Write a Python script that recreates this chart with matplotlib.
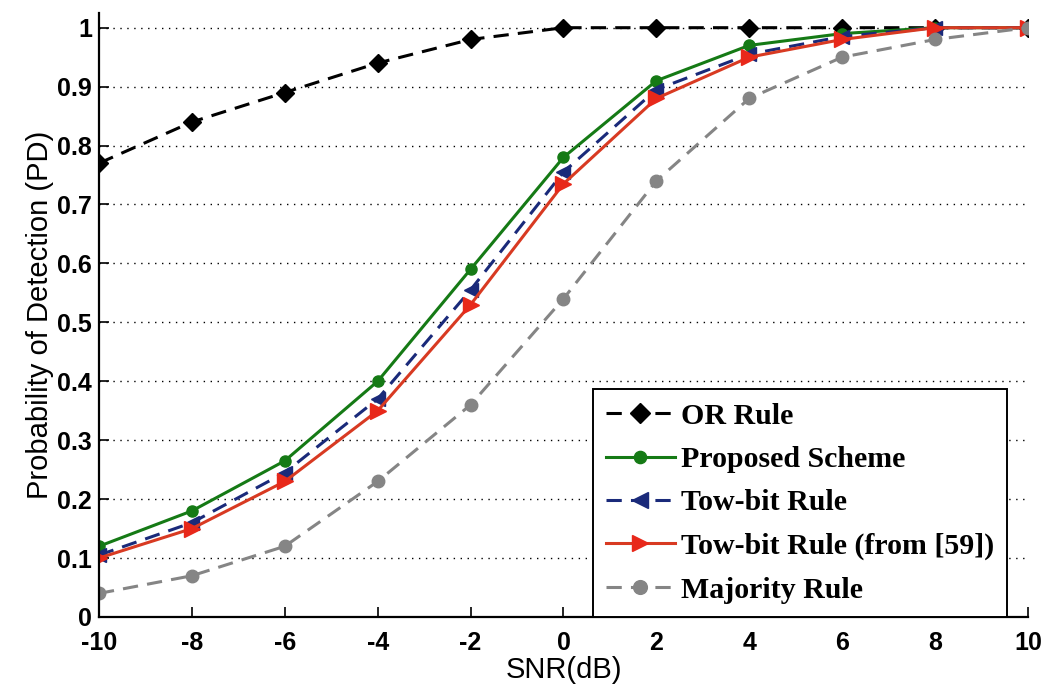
import numpy as np
import matplotlib
matplotlib.use("Agg")
import matplotlib.pyplot as plt

plt.rcParams["axes.unicode_minus"] = False

snr = [-10, -8, -6, -4, -2, 0, 2, 4, 6, 8, 10]
or_rule = [0.77, 0.84, 0.89, 0.94, 0.98, 1.0, 1.0, 1.0, 1.0, 1.0, 1.0]
proposed = [0.12, 0.18, 0.265, 0.40, 0.59, 0.78, 0.91, 0.97, 0.99, 1.0, 1.0]
tow_bit = [0.105, 0.16, 0.245, 0.37, 0.555, 0.755, 0.895, 0.955, 0.985, 1.0, 1.0]
tow_bit_59 = [0.10, 0.15, 0.23, 0.35, 0.53, 0.735, 0.88, 0.95, 0.98, 1.0, 1.0]
majority = [0.04, 0.07, 0.12, 0.23, 0.36, 0.54, 0.74, 0.88, 0.95, 0.98, 1.0]

xticks = [-10, -8, -6, -4, -2, 0, 2, 4, 6, 8, 10]
yticks = [0, 0.1, 0.2, 0.3, 0.4, 0.5, 0.6, 0.7, 0.8, 0.9, 1.0]
ytick_labels = ["0", "0.1", "0.2", "0.3", "0.4", "0.5", "0.6", "0.7", "0.8", "0.9", "1"]

fig = plt.figure(figsize=(10.42, 6.86), dpi=100)
ax = fig.add_axes([0.095, 0.1006, 0.8915, 0.8805])

ax.plot(snr, or_rule, color="black", linestyle=(0, (5, 3)), linewidth=2.2,
        marker="D", markersize=9, label="OR Rule")
ax.plot(snr, proposed, color="#157a15", linestyle="-", linewidth=2.2,
        marker="o", markersize=8, label="Proposed Scheme")
ax.plot(snr, tow_bit, color="#1a2a7a", linestyle=(0, (5, 3)), linewidth=2.2,
        marker="<", markersize=10, label="Tow-bit Rule")
ax.plot(snr, tow_bit_59, color="#d83a22", linestyle="-", linewidth=2.2,
        marker=">", markersize=11, markerfacecolor="#e8281a", markeredgecolor="#e8281a",
        label="Tow-bit Rule (from [59])")
ax.plot(snr, majority, color="#858585", linestyle=(0, (5, 3)), linewidth=2.2,
        marker="o", markersize=9, label="Majority Rule")

ax.set_xlim(-10, 10)
ax.set_ylim(0, 1.025)
ax.set_xticks(xticks)
ax.set_yticks(yticks)
ax.set_yticklabels(ytick_labels)
ax.tick_params(direction="in", length=7, width=1.2, labelsize=18)
ax.tick_params(axis="x", pad=10)
ax.tick_params(axis="y", pad=5)
for lbl in ax.get_xticklabels() + ax.get_yticklabels():
    lbl.set_fontweight("bold")
    lbl.set_family("Liberation Sans")

ax.yaxis.grid(True, linestyle=(0, (1, 4)), color="black", linewidth=1)
ax.spines["top"].set_visible(False)
ax.spines["right"].set_visible(False)
ax.spines["left"].set_linewidth(1.6)
ax.spines["bottom"].set_linewidth(1.6)

ax.set_xlabel("SNR(dB)", fontsize=21, family="Liberation Sans", labelpad=1)
ax.set_ylabel("Probability of Detection (PD)", fontsize=21, family="Liberation Sans", labelpad=2)

leg = ax.legend(loc="lower right", bbox_to_anchor=(0.978, 0.0), borderaxespad=0,
                fancybox=False, edgecolor="black", framealpha=1,
                prop={"family": "Liberation Serif", "weight": "bold", "size": 21.5},
                handlelength=2.3, handletextpad=0.2, labelspacing=0.55, borderpad=0.45,
                markerscale=1.1)
leg.get_frame().set_linewidth(1.4)

fig.savefig("out.png", dpi=100)
